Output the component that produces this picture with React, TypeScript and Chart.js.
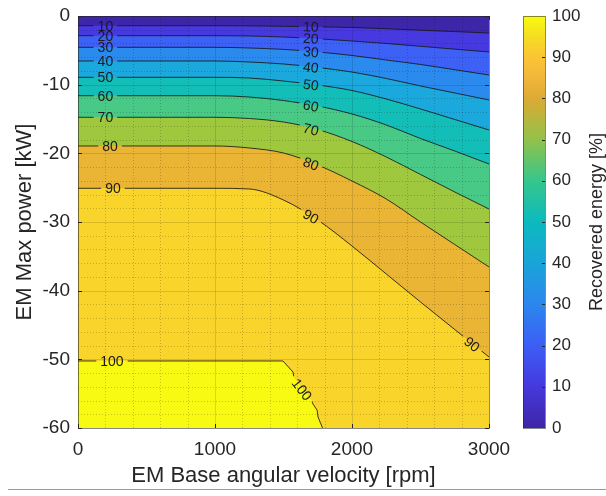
import { useEffect, useRef } from "react";
import { Chart, registerables } from "chart.js";

Chart.register(...registerables);

// ---- data ----
const rpm = [0, 1000, 1250, 1500, 1750, 2000, 2250, 2500, 2750, 3000];
const level0 = [0, 0, 0, 0, 0, 0, 0, 0, 0, 0];
const level10 = [-1.41, -1.41, -1.43, -1.5, -1.57, -1.67, -1.85, -2.07, -2.27, -2.48];
const level20 = [-2.87, -2.87, -2.91, -3.06, -3.32, -3.64, -4.0, -4.41, -4.83, -5.24];
const level30 = [-4.56, -4.56, -4.66, -4.86, -5.24, -5.75, -6.41, -7.06, -7.82, -8.59];
const level40 = [-6.55, -6.55, -6.7, -6.99, -7.5, -8.16, -9.1, -10.19, -11.21, -12.23];
const level50 = [-8.93, -8.93, -9.03, -9.47, -10.05, -10.85, -12.09, -13.54, -15.07, -16.6];
const level60 = [-11.61, -11.61, -11.8, -12.31, -13.11, -14.27, -15.87, -17.84, -19.66, -21.55];
const level70 = [-14.75, -14.75, -14.93, -15.44, -16.53, -18.28, -20.53, -23.08, -25.63, -28.11];
const level80 = [-18.93, -18.93, -19.22, -19.95, -21.7, -24.03, -26.65, -30.0, -33.28, -36.55];
const level90 = [-25.09, -25.09, -25.19, -26.8, -29.71, -33.5, -37.57, -41.65, -45.66, -49.66];
const level100Rpm = [0, 1496, 1569, 1577, 1640, 1701, 1715, 1745, 1752, 1785];
const level100Kw = [-50.24, -50.24, -51.84, -52.7, -54.3, -55.9, -56.5, -57.4, -58.4, -60];

const contourLevels = [0, 10, 20, 30, 40, 50, 60, 70, 80, 90, 100];
const contourKw = [level0, level10, level20, level30, level40, level50, level60, level70, level80, level90, level100Kw];
const bandColors = [
  "#3E26A8", "#4539DF", "#3D60F5", "#2B8AEE", "#1BA8DC", "#13BDB8",
  "#48C986", "#A0C83E", "#EAB535", "#F9D42A", "#F8FA13",
];

// contour labels
const labelLevel = [10, 20, 30, 40, 50, 60, 70, 80, 90, 100, 10, 20, 30, 40, 50, 60, 70, 80, 90, 90, 100];
const labelRpm = [200, 200, 200, 200, 200, 200, 200, 234, 255, 248, 1700, 1700, 1700, 1700, 1700, 1700, 1700, 1700, 1700, 2876, 1635];
const labelKw = [-1.41, -2.87, -4.56, -6.55, -8.93, -11.61, -14.75, -18.93, -25.09, -50.24, -1.56, -3.27, -5.22, -7.47, -10.02, -13.05, -16.5, -21.5, -29.2, -47.8, -54.4];
const labelAngle = [0, 0, 0, 0, 0, 0, 0, 0, 0, 0, 2, 4, 5, 7, 8, 11, 15, 21, 30, 38, 52];

// axis ticks
const xTicks = [0, 1000, 2000, 3000];
const yTicks = [0, -10, -20, -30, -40, -50, -60];
const xMinorStep = 200;
const yMinorStep = 2;
const cbarTicks = [0, 10, 20, 30, 40, 50, 60, 70, 80, 90, 100];
const parulaStops = [0, 0.1, 0.2, 0.3, 0.4, 0.5, 0.6, 0.7, 0.8, 0.85, 0.9, 0.95, 1];
const parulaColors = [
  "#3E26A8", "#4538DC", "#3C5EF5", "#2C86EE", "#19A4D9", "#0CBABF",
  "#36C68C", "#92C24A", "#DDAA33", "#F1B63A", "#FCC435", "#F5DD22", "#F9FB0E",
];

const FONT = "'Liberation Sans', Arial, Helvetica, sans-serif";
const TXT = "#262626";
const labelFont = `14px ${FONT}`;

function labelCorners(px: number, py: number, w: number, h: number, deg: number) {
  const a = (deg * Math.PI) / 180;
  const c = Math.cos(a), s = Math.sin(a);
  return [
    [-w / 2, -h / 2], [w / 2, -h / 2], [w / 2, h / 2], [-w / 2, h / 2],
  ].map(([u, v]) => [px + u * c - v * s, py + u * s + v * c]);
}

const overlay = {
  id: "contourOverlay",
  beforeDatasetDraw(chart: any, args: any) {
    const ds: any = chart.data.datasets[args.index];
    const ctx = chart.ctx;
    ctx.save();
    const xs = chart.scales.x, ys = chart.scales.y;
    ctx.font = labelFont;
    for (let i = 0; i < labelLevel.length; i++) {
      if (labelLevel[i] !== ds.level) continue;
      const px = xs.getPixelForValue(labelRpm[i]);
      const py = ys.getPixelForValue(labelKw[i]);
      const w = ctx.measureText(String(labelLevel[i])).width + 8;
      const pts = labelCorners(px, py, w, 14, labelAngle[i]);
      ctx.beginPath();
      ctx.rect(0, 0, chart.width, chart.height);
      ctx.moveTo(pts[0][0], pts[0][1]);
      for (let k = 1; k < 4; k++) ctx.lineTo(pts[k][0], pts[k][1]);
      ctx.closePath();
      ctx.clip("evenodd");
    }
  },
  afterDatasetDraw(chart: any) {
    chart.ctx.restore();
  },
  afterDatasetsDraw(chart: any) {
    const ctx = chart.ctx;
    const { left, right, top, bottom } = chart.chartArea;
    const xs = chart.scales.x, ys = chart.scales.y;
    ctx.save();
    ctx.beginPath();
    ctx.rect(left, top, right - left, bottom - top);
    ctx.clip();
    // minor grid
    ctx.strokeStyle = "rgba(0,0,0,0.2)";
    ctx.lineWidth = 1;
    ctx.setLineDash([1, 2]);
    for (let v = xMinorStep; v < 3000; v += xMinorStep) {
      if (v % 1000 === 0) continue;
      const p = Math.round(xs.getPixelForValue(v)) + 0.5;
      ctx.beginPath(); ctx.moveTo(p, top); ctx.lineTo(p, bottom); ctx.stroke();
    }
    for (let v = -yMinorStep; v > -60; v -= yMinorStep) {
      if (v % 10 === 0) continue;
      const p = Math.round(ys.getPixelForValue(v)) + 0.5;
      ctx.beginPath(); ctx.moveTo(left, p); ctx.lineTo(right, p); ctx.stroke();
    }
    // major grid
    ctx.setLineDash([]);
    ctx.strokeStyle = "rgba(0,0,0,0.12)";
    for (const v of xTicks) {
      const p = Math.round(xs.getPixelForValue(v)) + 0.5;
      ctx.beginPath(); ctx.moveTo(p, top); ctx.lineTo(p, bottom); ctx.stroke();
    }
    for (const v of yTicks) {
      const p = Math.round(ys.getPixelForValue(v)) + 0.5;
      ctx.beginPath(); ctx.moveTo(left, p); ctx.lineTo(right, p); ctx.stroke();
    }
    ctx.restore();

    // contour labels
    ctx.save();
    ctx.font = labelFont;
    ctx.fillStyle = "#1a1a1a";
    ctx.textAlign = "center";
    ctx.textBaseline = "middle";
    for (let i = 0; i < labelLevel.length; i++) {
      const px = xs.getPixelForValue(labelRpm[i]);
      const py = ys.getPixelForValue(labelKw[i]);
      ctx.save();
      ctx.translate(px, py);
      ctx.rotate((labelAngle[i] * Math.PI) / 180);
      ctx.fillText(String(labelLevel[i]), 0, 1);
      ctx.restore();
    }
    ctx.restore();

    // ticks and box
    ctx.save();
    ctx.strokeStyle = TXT;
    ctx.lineWidth = 1;
    for (const v of xTicks) {
      const p = Math.round(xs.getPixelForValue(v)) + 0.5;
      ctx.beginPath();
      ctx.moveTo(p, bottom); ctx.lineTo(p, bottom - 4);
      ctx.moveTo(p, top); ctx.lineTo(p, top + 4);
      ctx.stroke();
    }
    for (const v of yTicks) {
      const p = Math.round(ys.getPixelForValue(v)) + 0.5;
      ctx.beginPath();
      ctx.moveTo(left, p); ctx.lineTo(left + 4, p);
      ctx.moveTo(right, p); ctx.lineTo(right - 4, p);
      ctx.stroke();
    }
    ctx.strokeStyle = "rgba(38,38,38,0.55)";
    ctx.strokeRect(Math.round(left) + 0.5, Math.round(top) + 0.5, Math.round(right - left), Math.round(bottom - top));
    ctx.restore();
  },
  afterDraw(chart: any) {
    const ctx = chart.ctx;
    const { right } = chart.chartArea;
    const cs = chart.scales.y2;
    const x0 = right + 34, x1 = right + 56;
    const yTop = cs.getPixelForValue(100), yBot = cs.getPixelForValue(0);
    ctx.save();
    const g = ctx.createLinearGradient(0, yBot, 0, yTop);
    for (let i = 0; i < parulaStops.length; i++) g.addColorStop(parulaStops[i], parulaColors[i]);
    ctx.fillStyle = g;
    ctx.fillRect(x0, yTop, x1 - x0, yBot - yTop);
    ctx.strokeStyle = "rgba(38,38,38,0.55)";
    ctx.lineWidth = 1;
    ctx.strokeRect(Math.round(x0) + 0.5, Math.round(yTop) + 0.5, Math.round(x1 - x0), Math.round(yBot - yTop));
    ctx.strokeStyle = TXT;
    for (const v of cbarTicks) {
      if (v === 0 || v === 100) continue;
      const p = Math.round(cs.getPixelForValue(v)) + 0.5;
      ctx.beginPath(); ctx.moveTo(x1, p); ctx.lineTo(x1 - 3, p); ctx.stroke();
    }
    // colorbar title
    ctx.fillStyle = TXT;
    ctx.font = `18px ${FONT}`;
    ctx.textAlign = "center";
    ctx.textBaseline = "middle";
    ctx.translate(597, (yTop + yBot) / 2);
    ctx.rotate(-Math.PI / 2);
    ctx.fillText("Recovered energy [%]", 0, 0);
    ctx.restore();
    // page rule
    ctx.save();
    ctx.strokeStyle = "#9a9a9a";
    ctx.lineWidth = 1;
    ctx.beginPath();
    ctx.moveTo(8, 489.5);
    ctx.lineTo(606, 489.5);
    ctx.stroke();
    ctx.restore();
  },
};

export default function App() {
  const ref = useRef<HTMLCanvasElement | null>(null);
  useEffect(() => {
    const datasets: any[] = contourLevels.map((lev, i) => {
      const xsData = lev === 100 ? level100Rpm : rpm;
      return {
        label: String(lev),
        level: lev,
        data: xsData.map((x, k) => ({ x, y: contourKw[i][k] })),
        borderColor: lev === 0 ? "rgba(0,0,0,0)" : "rgba(25,25,25,0.85)",
        borderWidth: lev === 0 ? 0 : 1,
        backgroundColor: bandColors[i],
        fill: "start",
        pointRadius: 0,
        cubicInterpolationMode: lev === 100 ? "default" : "monotone",
        tension: 0,
        order: 200 - lev,
      };
    });
    const chart = new Chart(ref.current as HTMLCanvasElement, {
      type: "line",
      data: { datasets },
      options: {
        animation: false,
        responsive: false,
        devicePixelRatio: 1,
        layout: { padding: { top: 16, left: 0, right: 0, bottom: 0 } },
        plugins: { legend: { display: false }, tooltip: { enabled: false } },
        scales: {
          x: {
            type: "linear",
            min: 0,
            max: 3000,
            ticks: { stepSize: 1000, padding: 10, color: TXT, font: { family: FONT, size: 19 }, callback: (v: any) => String(v) },
            grid: { display: false, drawTicks: false },
            border: { display: false },
            title: {
              display: true,
              text: "EM Base angular velocity [rpm]",
              color: TXT,
              font: { family: FONT, size: 22 },
              padding: { top: 0, bottom: 7 },
            },
            afterFit: (s: any) => { s.height = 68; s.paddingLeft = 0; s.paddingRight = 0; },
          },
          y: {
            type: "linear",
            min: -60,
            max: 0,
            ticks: { stepSize: 10, padding: 8, color: TXT, font: { family: FONT, size: 19 }, callback: (v: any) => String(v) },
            grid: { display: false, drawTicks: false },
            border: { display: false },
            title: {
              display: true,
              text: "EM Max power [kW]",
              color: TXT,
              font: { family: FONT, size: 22 },
              padding: { top: 12, bottom: 0 },
            },
            afterFit: (s: any) => { s.width = 78; s.paddingTop = 0; s.paddingBottom = 0; },
          },
          y2: {
            type: "linear",
            position: "right",
            min: 0,
            max: 100,
            ticks: { stepSize: 10, padding: 63, color: TXT, font: { family: FONT, size: 17 }, callback: (v: any) => String(v) },
            grid: { display: false, drawTicks: false, drawOnChartArea: false },
            border: { display: false },
            afterFit: (s: any) => { s.width = 117; s.paddingTop = 0; s.paddingBottom = 0; },
          },
        },
      } as any,
      plugins: [overlay as any],
    });
    return () => chart.destroy();
  }, []);
  return (
    <div style={{ position: "absolute", left: 0, top: 0, width: 606, height: 496, background: "#fff" }}>
      <canvas ref={ref} width={606} height={496} style={{ display: "block" }} />
    </div>
  );
}
